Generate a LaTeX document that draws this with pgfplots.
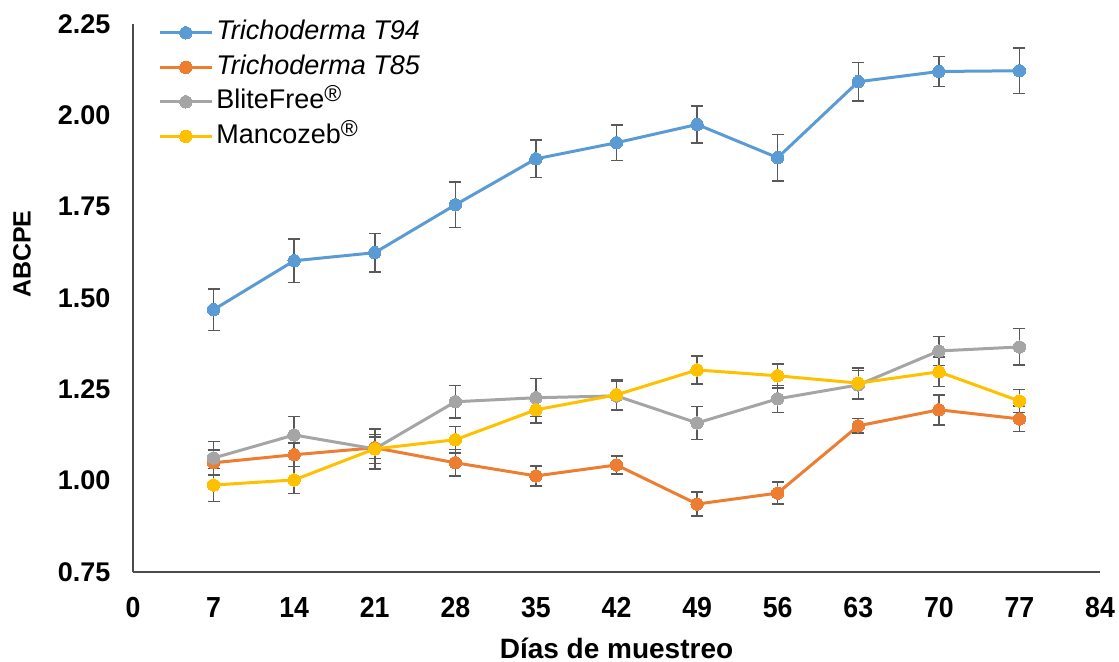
\documentclass[border=0pt]{standalone}
\usepackage{pgfplots}
\pgfplotsset{compat=1.18}
\usepackage{pgfplotstable}
\usepackage{fontspec}
\setmainfont{Liberation Sans}
\definecolor{cblue}{HTML}{5B9BD5}
\definecolor{corange}{HTML}{ED7D31}
\definecolor{cgrey}{HTML}{A5A5A5}
\definecolor{cyellow}{HTML}{FFC000}
\definecolor{cerr}{HTML}{595959}

\pgfplotstableread{
x y e
7 1.468 0.057
14 1.602 0.060
21 1.624 0.053
28 1.755 0.062
35 1.881 0.051
42 1.925 0.048
49 1.975 0.051
56 1.884 0.064
63 2.092 0.053
70 2.120 0.041
77 2.122 0.062
}\tninetyfour
\pgfplotstableread{
x y e
7 1.049 0.035
14 1.071 0.032
21 1.090 0.030
28 1.049 0.036
35 1.013 0.027
42 1.043 0.025
49 0.936 0.033
56 0.966 0.030
63 1.150 0.020
70 1.194 0.041
77 1.169 0.035
}\teightyfive
\pgfplotstableread{
x y e
7 1.062 0.045
14 1.125 0.050
21 1.087 0.055
28 1.216 0.045
35 1.227 0.052
42 1.232 0.040
49 1.158 0.045
56 1.224 0.037
63 1.262 0.040
70 1.355 0.040
77 1.366 0.050
}\blitefree
\pgfplotstableread{
x y e
7 0.988 0.045
14 1.002 0.037
21 1.087 0.040
28 1.112 0.036
35 1.194 0.036
42 1.235 0.040
49 1.303 0.038
56 1.287 0.033
63 1.267 0.042
70 1.298 0.040
77 1.218 0.032
}\mancozeb

\newcommand{\reg}{\raisebox{0.5ex}{\fontsize{23}{23}\selectfont ®}}

\pgfplotsset{
  ser/.style={color=#1, line width=3pt, mark=*, mark size=6.2pt,
    mark options={fill=#1, draw=#1, line width=0pt},
    error bars/.cd, y dir=both, y explicit,
    error bar style={line width=1.5pt, color=cerr, solid},
    error mark options={line width=1.5pt, color=cerr, mark size=6pt, rotate=90}},
}

\begin{document}
\begin{tikzpicture}
\begin{axis}[
  name=ax,
  scale only axis,
  width=967pt, height=548pt,
  xmin=0, xmax=84, ymin=0.75, ymax=2.25,
  xtick={0,7,...,84},
  ytick={0.75,1.00,1.25,1.50,1.75,2.00,2.25},
  axis lines*=left,
  axis line style={-, line width=1.3pt, color=black!70},
  major tick length=0pt,
  clip=false,
  /pgf/number format/assume math mode=true,
  yticklabel style={font=\fontsize{27}{32}\selectfont\bfseries, /pgf/number format/.cd, fixed, fixed zerofill, precision=2},
  xticklabel style={font=\fontsize{29}{34}\selectfont\bfseries},
  xticklabel={\scalebox{0.92}[1]{\pgfmathprintnumber{\tick}}},
  yticklabel shift=19pt,
  xticklabel shift=22pt,
  xlabel={Días de muestreo},
  xlabel style={font=\fontsize{28}{32}\selectfont\bfseries, at={(axis description cs:0.5,0)}, anchor=center, yshift=-76pt},
  ylabel={ABCPE},
  ylabel style={font=\fontsize{25}{30}\selectfont\bfseries, at={(axis description cs:0,0.580)}, anchor=center, yshift=111pt},
  legend style={at={(axis description cs:0.026,1.008)}, anchor=north west, draw=none, fill=none,
    font=\fontsize{27}{32}\selectfont, inner sep=0pt, row sep=8.5pt,
    nodes={inner sep=0pt, text height=20pt, text depth=6pt, anchor=west}},
  legend cell align=left,
  legend image code/.code={
    \draw[#1, mark repeat=2, mark phase=2] plot coordinates {(0pt,0pt) (26pt,0pt) (52pt,0pt)};
  },
]
\addplot[ser=cblue] table[x=x, y=y, y error=e] {\tninetyfour};
\addlegendentry{\hspace{3pt}\textit{Trichoderma T94}}
\addplot[ser=corange] table[x=x, y=y, y error=e] {\teightyfive};
\addlegendentry{\hspace{3pt}\textit{Trichoderma T85}}
\addplot[ser=cgrey] table[x=x, y=y, y error=e] {\blitefree};
\addlegendentry{\hspace{3pt}BliteFree\reg}
\addplot[ser=cyellow] table[x=x, y=y, y error=e] {\mancozeb};
\addlegendentry{\hspace{3pt}Mancozeb\reg}
\end{axis}
\pgfresetboundingbox
\path[use as bounding box] ([xshift=-133pt,yshift=-90pt]ax.south west) rectangle ([xshift=19pt,yshift=24pt]ax.north east);
\end{tikzpicture}
\end{document}
